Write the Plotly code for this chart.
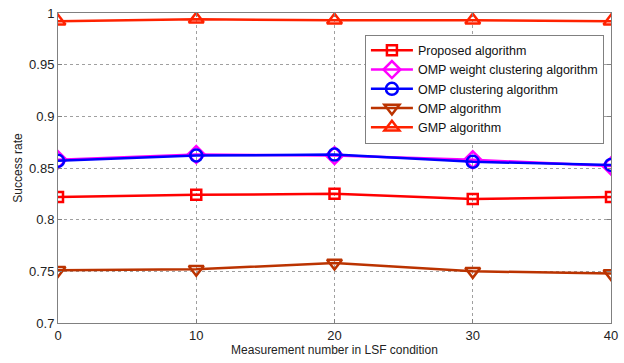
import plotly.graph_objects as go

# Measurement counts on the x axis
measurements = [0, 10, 20, 30, 40]

# Success rate of each reconstruction method
proposed = [0.822, 0.824, 0.825, 0.820, 0.822]
omp_weight_clustering = [0.858, 0.863, 0.862, 0.858, 0.852]
omp_clustering = [0.857, 0.862, 0.863, 0.856, 0.853]
omp = [0.751, 0.752, 0.758, 0.750, 0.748]
gmp = [0.992, 0.994, 0.993, 0.993, 0.992]

series = [
    ("Proposed algorithm", proposed, "#ff0000", "square-open", 10),
    ("OMP weight clustering algorithm", omp_weight_clustering, "#ff00ff", "diamond-open", 13),
    ("OMP clustering algorithm", omp_clustering, "#0000ff", "circle-open", 12),
    ("OMP algorithm", omp, "#bb3300", "triangle-down-open", 13),
    ("GMP algorithm", gmp, "#ff2200", "triangle-up-open", 13),
]

fig = go.Figure()
for name, vals, color, symbol, size in series:
    fig.add_trace(go.Scatter(
        x=measurements, y=vals, name=name, mode="lines+markers",
        line=dict(color=color, width=2.5),
        marker=dict(symbol=symbol, size=size, color=color,
                    line=dict(color=color, width=2.5)),
    ))

axis_common = dict(
    showline=True, linecolor="#808080", linewidth=1, mirror="ticks",
    ticks="inside", ticklen=4, tickcolor="#808080",
    showgrid=True, gridcolor="#a0a0a0", griddash="dot", gridwidth=1,
    zeroline=False, ticklabeloverflow="allow",
    tickfont=dict(family="Liberation Sans, Arial", size=13, color="#222"),
)

fig.update_xaxes(range=[0, 40], tickvals=[0, 10, 20, 30, 40],
                 title=dict(text="Measurement number in LSF condition",
                            font=dict(family="Liberation Sans, Arial", size=12, color="#222"),
                            standoff=2),
                 **axis_common)
fig.update_yaxes(range=[0.7, 1.0], tickvals=[0.7, 0.75, 0.8, 0.85, 0.9, 0.95, 1.0],
                 ticktext=["0.7", "0.75", "0.8", "0.85", "0.9", "0.95", "1"],
                 title=dict(text="Success rate",
                            font=dict(family="Liberation Sans, Arial", size=12, color="#222"),
                            standoff=3),
                 **axis_common)

fig.update_layout(
    width=624, height=363,
    margin=dict(l=58, r=6, t=11, b=40),
    paper_bgcolor="white", plot_bgcolor="white",
    showlegend=True,
    legend=dict(x=0.555, y=0.93, xanchor="left", yanchor="top",
                bgcolor="white", bordercolor="#808080", borderwidth=1,
                font=dict(family="Liberation Sans, Arial", size=12.5, color="#111"),
                tracegroupgap=0, itemwidth=42),
)

fig.write_html("out.html")
